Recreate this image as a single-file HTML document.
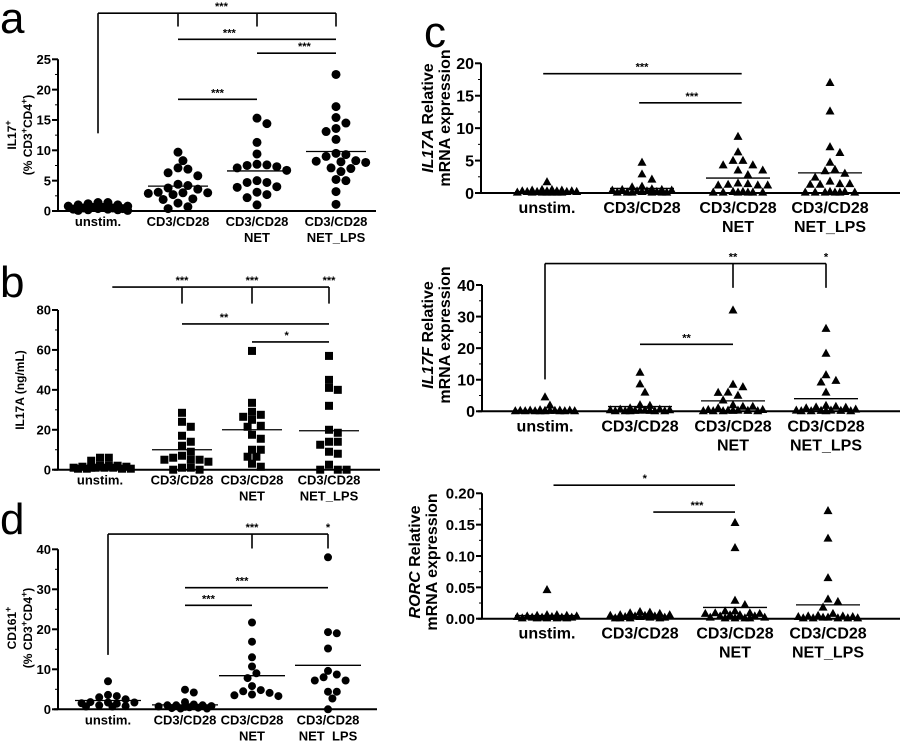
<!DOCTYPE html>
<html><head><meta charset="utf-8">
<style>
html,body{margin:0;padding:0;background:#fff;}
svg{display:block;font-family:"Liberation Sans",Arial,sans-serif;}
</style></head>
<body>
<svg id="fig" width="900" height="741" viewBox="0 0 900 741"></svg>
<script>
// ---------- data ----------
const categories = ["unstim.", "CD3/CD28", "CD3/CD28|NET", "CD3/CD28|NET_LPS"];
const aTicks = [0,5,10,15,20,25];
const aUnstim = [1.4,1.2,1.0,0.8,0.6,0.5,0.4,0.3,0.2,0.1,0.1,0.2,0.3,0.4,0.5,0.6,0.8,1.0,1.4];
const aCD28 = [9.7,8.3,7.1,6.9,6.3,5.8,4.4,4.2,3.8,3.6,3.1,3.0,3.0,2.9,2.7,2.0,1.9,1.3,0.7,0.4];
const aNET = [15.3,14.4,11.3,9.4,7.7,7.6,7.5,7.3,7.1,6.7,5.0,4.7,4.7,4.0,3.9,3.1,2.7,2.2,1.0];
const aLPS = [22.5,17.2,15.4,14.5,13.6,13.1,11.8,9.5,9.3,9.0,8.3,8.2,8.1,8.0,7.1,7.0,6.5,5.2,5.0,3.2,1.1];
const aMeans = [0.5,4.1,6.6,9.8];

const bTicks = [0,20,40,60,80];
const bUnstim = [6,6,4.5,2,2,1.5,1,1,1,0.5,0.5,0.5,0.5,1,1,1.5,2];
const bCD28 = [28.5,24,21.5,17,14,12,9,7,6,5,5,5,4,1,1,0,0];
const bNET = [59.5,33.5,29,27.5,26.5,25,21.5,22,17.5,15.5,10,10,6.5,6.5,3,1.5];
const bLPS = [57,45,41,40,32,20,18.5,14,14,12.5,9,8,2.5,0,0,0];
const bMeans = [1.5,10,20,19.5];

const dTicks = [0,10,20,30,40];
const dUnstim = [7,3.6,3.3,3,2.5,1.8,1.7,1.7,1.5,1.4,1,0.8,0.7,0.7];
const dCD28 = [4.9,4.2,1.8,1.2,1.0,0.8,0.6,0.4,0.3,0.2,0.2,0.5,0.7,1,1];
const dNET = [21.7,16.9,13,10.7,9,7.8,5.8,4.8,4.5,4.1,3.7,3.5,3.3];
const dLPS = [38,19.3,19,15.2,9.6,8.7,8,7.2,7.2,4.4,4.4,2.7,0];
const dMeans = [2.2,1.1,8.4,11];

const c1Ticks = [0,5,10,15,20];
const c1Unstim = [1.7,0.4,0.3,0.3,0.2,0.2,0.1,0.1,0.1,0.1,0.1,0.1,0.1,0.2,0.2,0.3,0.3,0.4,0.5,0.5];
const c1CD28 = [4.7,2.9,2.1,1.0,0.9,0.6,0.5,0.4,0.3,0.2,0.1,0.1,0.1,0.1,0.1,0.1,0.2,0.3,0.4,0.5];
const c1NET = [8.7,6.3,5.0,5.0,4.3,4.3,3.5,3.5,2.8,1.5,1.4,1.3,1.2,1.2,1.2,0.2,0.1,0.1,0.1,0.1,0.1,0.1,0.2];
const c1LPS = [17,12.6,7.1,6.2,4.7,3.6,3.4,3.0,2.4,1.8,1.4,1.4,1.3,1.3,0.2,0.1,0.1,0.1,0.1,0.1,0.1,0.2];
const c1Means = [0.2,0.7,2.3,3.1];

const c2Ticks = [0,10,20,30,40];
const c2Unstim = [4.5,1.9,0.3,0.2,0.2,0.1,0.1,0.1,0.1,0.1,0.1,0.1,0.1,0.2,0.2,0.3,0.3,0.4];
const c2CD28 = [12.3,8.6,6,2,1.8,1.0,0.6,0.4,0.3,0.2,0.1,0.1,0.1,0.1,0.1,0.2,0.3,0.4,0.6];
const c2NET = [32,8.5,7.7,6,5.9,5,3.5,2,1.5,1.5,1,0.5,0.3,0.2,0.1,0.1,0.1,0.1,0.2,0.3,0.5];
const c2LPS = [26.2,18.3,11.5,9.7,9.2,6,1.8,1.5,1.3,1.2,1.0,0.6,0.3,0.2,0.1,0.1,0.1,0.1,0.2,0.3];
const c2Means = [0.3,1.5,3.3,4];

const c3Ticks = [0,0.05,0.10,0.15,0.20];
const c3TickLabels = ["0.00","0.05","0.10","0.15","0.20"];
const c3Unstim = [0.046,0.006,0.005,0.004,0.003,0.002,0.002,0.001,0.001,0.001,0.001,0.001,0.002,0.002,0.003,0.004,0.005,0.006];
const c3CD28 = [0.011,0.010,0.009,0.006,0.005,0.004,0.003,0.002,0.001,0.001,0.001,0.001,0.002,0.003,0.004,0.005,0.006,0.008];
const c3NET = [0.153,0.113,0.029,0.022,0.012,0.012,0.009,0.009,0.008,0.006,0.004,0.002,0.001,0.001,0.001,0.001,0.002,0.004,0.006,0.008];
const c3LPS = [0.172,0.128,0.065,0.031,0.027,0.018,0.008,0.005,0.004,0.003,0.002,0.001,0.001,0.001,0.001,0.001,0.002,0.003,0.004];
const c3Means = [0.005,0.004,0.018,0.022];

// ---------- drawing ----------
const NS = "http://www.w3.org/2000/svg";
const svg = document.getElementById('fig');
function mk(tag, attrs, parent){
  const e = document.createElementNS(NS, tag);
  for (const k in attrs) e.setAttribute(k, attrs[k]);
  (parent||svg).appendChild(e);
  return e;
}
function txt(str, attrs, parent){ const t = mk('text', attrs, parent); t.textContent = str; return t; }

function beeswarm(vals, cx, yfn, d, maxW){
  const order = vals.map((v,i)=>i).sort((a,b)=>vals[b]-vals[a]);
  const placed = [];
  const out = new Array(vals.length);
  const step = d*0.55;
  const nmax = Math.floor(maxW/step);
  for (const i of order){
    const y = yfn(vals[i]);
    let best = null, bestD = -1;
    for (let k=0; k<=2*nmax; k++){
      const off = (k===0)?0:((k%2===1)?1:-1)*Math.ceil(k/2)*step;
      const x = cx + off;
      let md = 1e9;
      for (const p of placed){ const dd = Math.hypot(p.x-x,p.y-y); if (dd<md) md=dd; }
      if (md >= d*0.95){ best = x; break; }
      if (md > bestD + 0.5){ bestD = md; best = x; }
    }
    placed.push({x:best,y}); out[i]={x:best,y};
  }
  return out;
}

function panel(cfg){
  const g = mk('g', {});
  
  
  const y = v => cfg.y0 - (v - cfg.ticks[0]) / (cfg.ticks[cfg.ticks.length-1]-cfg.ticks[0]) * (cfg.y0 - cfg.yTop);
  const x = i => { const f = Math.max(0, Math.min(2, Math.floor(i))), r = i - f; const a = cfg.cx[f], b = cfg.cx[f+1]; return a + (b-a)*r; };
  const ya = mk('line', {x1:cfg.ax, y1:cfg.yTop, x2:cfg.ax, y2:cfg.y0, stroke:'#000','stroke-width':2}, g);
   
  const xa = mk('line', {x1:cfg.ax-4, y1:cfg.y0, x2:cfg.axR, y2:cfg.y0, stroke:'#000','stroke-width':2}, g);
   
  cfg.ticks.forEach((t,i)=>{
    mk('line',{x1:cfg.ax-6,y1:y(t),x2:cfg.ax,y2:y(t),stroke:'#000','stroke-width':2},g);
    if (i<cfg.ticks.length-1){ const m=(t+cfg.ticks[i+1])/2; mk('line',{x1:cfg.ax-3,y1:y(m),x2:cfg.ax,y2:y(m),stroke:'#000','stroke-width':1},g); }
    const fs = cfg.tfs||13;
    const lb = txt(cfg.tickLabels?cfg.tickLabels[i]:String(t), {x:cfg.ax-7, y:y(t)+fs*0.36, 'text-anchor':'end','font-size':fs,'font-weight':'bold'}, g);
     
  });
  categories.forEach((c,i)=>{
    c.split('|').forEach((line,j)=>{
      const t = txt(line,{x:cfg.cx[i], y:cfg.y0+(cfg.lb||15)+j*(cfg.lh||16),'text-anchor':'middle','font-size':cfg.cfs||13,'font-weight':'bold'},g);
       
    });
  });
  cfg.series.forEach((vals,i)=>{
    const pts = beeswarm(vals, cfg.cx[i], y, cfg.d, cfg.maxW);
    pts.forEach(p=>{
      let m;
      if (cfg.shape==='circle') m = mk('circle',{cx:p.x,cy:p.y,r:cfg.d/2,fill:'#000'},g);
      else if (cfg.shape==='square') m = mk('rect',{x:p.x-cfg.d/2,y:p.y-cfg.d/2,width:cfg.d,height:cfg.d,fill:'#000'},g);
      else { const h=cfg.d*0.9, w=cfg.d/2; m = mk('polygon',{points:`${p.x},${p.y-h*0.6} ${p.x-w},${p.y+h*0.4} ${p.x+w},${p.y+h*0.4}`,fill:'#000'},g); }
       
    });
    const ml = mk('line',{x1:cfg.cx[i]-cfg.mw,y1:y(cfg.means[i]),x2:cfg.cx[i]+cfg.mw,y2:y(cfg.means[i]),stroke:'#000','stroke-width':1.3},g);
     
  });
  (cfg.brackets||[]).forEach(b=>{
    const ln = mk('line',{x1:x(b.from),y1:y(b.v),x2:x(b.to),y2:y(b.v),stroke:'#000','stroke-width':1.6},g);
     
    (b.drops||[]).forEach(dr=>{ mk('line',{x1:x(dr[0]),y1:y(b.v),x2:x(dr[0]),y2:y(dr[1]),stroke:'#000','stroke-width':1.6},g); });
    (b.stars||[]).forEach(s=>{
      const t = txt(s[1],{x:x(s[0]),y:y(b.v)-3,'text-anchor':'middle','font-size':11,'font-weight':'bold'},g);
       
    });
  });
  const tg = mk('g',{transform:`translate(${cfg.titleX},${cfg.titleY}) rotate(-90)`},g);
  cfg.title.forEach((line,j)=>{
    const t = mk('text',{x:0,y:j*(cfg.titleLH||17),'text-anchor':'middle','font-size':cfg.titleFs||13,'font-weight':'bold'},tg);
    line.forEach(seg=>{ const s = mk('tspan',seg.it?{'font-style':'italic'}:{},t); s.textContent = seg.t; if(seg.sup){s.setAttribute('baseline-shift','super');s.setAttribute('font-size','9');} });
     
  });
  if (cfg.letter){
    const L = txt(cfg.letter,{x:cfg.lx,y:cfg.ly,'font-size':44},g);
     
  }
}

panel({name:'panel-a', letter:'a', lx:0, ly:33, ax:58, axR:376, y0:211, yTop:59.3, ticks:aTicks, cx:[98,178,257,336],
  series:[aUnstim,aCD28,aNET,aLPS], means:aMeans, shape:'circle', d:9, maxW:34, mw:30,
  title:[[{t:'IL17'},{t:'+',sup:1}],[{t:'(% CD3'},{t:'+',sup:1},{t:'CD4'},{t:'+',sup:1},{t:')'}]], titleX:16, titleY:135, titleFs:12, titleLH:16,
  brackets:[
    {from:0,to:3,v:32.6,drops:[[0,12.8],[1,30.4],[2,30.4],[3,30.4]],stars:[[1.55,'***']]},
    {from:1,to:3,v:28.3,stars:[[1.65,'***']]},
    {from:2,to:3,v:26.0,stars:[[2.6,'***']]},
    {from:1,to:2,v:18.4,stars:[[1.5,'***']]}
  ]});

panel({name:'panel-b', letter:'b', lx:0, ly:297, ax:58, axR:380, y0:469.7, yTop:310, ticks:bTicks, cx:[100,182,252,329],
  series:[bUnstim,bCD28,bNET,bLPS], means:bMeans, shape:'square', d:8, maxW:32, mw:30,
  title:[[{t:'IL17A (ng/mL)'}]], titleX:24, titleY:390, titleFs:12,
  brackets:[
    {from:0.15,to:3,v:91.5,drops:[[1,83.2],[2,83.2],[3,83.2]],stars:[[1,'***'],[2,'***'],[3,'***']]},
    {from:1,to:3,v:73,stars:[[1.6,'**']]},
    {from:2,to:3,v:64,stars:[[2.45,'*']]}
  ]});

panel({name:'panel-d', letter:'d', lx:0, ly:534, ax:58, axR:377, y0:709.3, yTop:549.3, ticks:dTicks, cx:[108,185,252,328],
  series:[dUnstim,dCD28,dNET,dLPS], means:dMeans, shape:'circle', d:8, maxW:30, mw:33,
  title:[[{t:'CD161'},{t:'+',sup:1}],[{t:'(% CD3'},{t:'+',sup:1},{t:'CD4'},{t:'+',sup:1},{t:')'}]], titleX:16, titleY:628, titleFs:12, titleLH:16,
  brackets:[
    {from:0,to:3,v:43.8,drops:[[0,13.6],[2,40.2],[3,40.2]],stars:[[2,'***'],[3,'*']]},
    {from:1,to:3,v:30.4,stars:[[1.85,'***']]},
    {from:1,to:2,v:26,stars:[[1.35,'***']]}
  ]});

panel({name:'panel-c-il17a', letter:'c', lx:424, ly:47, ax:481, axR:900, y0:193, yTop:63.3, ticks:c1Ticks, cx:[547,642,738,830],
  series:[c1Unstim,c1CD28,c1NET,c1LPS], means:c1Means, shape:'tri', d:9, maxW:30, mw:32, tfs:16, cfs:16, lb:20, lh:19,
  title:[[{t:'IL17A',it:1},{t:' Relative'}],[{t:'mRNA expression'}]], titleX:433, titleY:118, titleFs:16, titleLH:17,
  brackets:[
    {from:-0.04,to:2.04,v:18.4,stars:[[1,'***']]},
    {from:0.97,to:2.04,v:13.9,stars:[[1.52,'***']]}
  ]});

panel({name:'panel-c-il17f', letter:'', lx:0, ly:0, ax:482, axR:900, y0:411.3, yTop:285, ticks:c2Ticks, cx:[545,640,733,826],
  series:[c2Unstim,c2CD28,c2NET,c2LPS], means:c2Means, shape:'tri', d:9, maxW:30, mw:32, tfs:16, cfs:16, lb:20, lh:19,
  title:[[{t:'IL17F',it:1},{t:' Relative'}],[{t:'mRNA expression'}]], titleX:433, titleY:335, titleFs:16, titleLH:17,
  brackets:[
    {from:0,to:3,v:46.8,drops:[[0,10.1],[2,39.1],[3,39.1]],stars:[[2,'**'],[3,'*']]},
    {from:1,to:2,v:21.2,stars:[[1.5,'**']]}
  ]});

panel({name:'panel-c-rorc', letter:'', lx:0, ly:0, ax:482, axR:900, y0:618.7, yTop:493.3, ticks:c3Ticks, tickLabels:c3TickLabels, cx:[547,640,735,828],
  series:[c3Unstim,c3CD28,c3NET,c3LPS], means:c3Means, shape:'tri', d:9, maxW:30, mw:32, tfs:15, cfs:16, lb:20, lh:19,
  title:[[{t:'RORC',it:1},{t:' Relative'}],[{t:'mRNA expression'}]], titleX:420, titleY:562, titleFs:16, titleLH:17,
  brackets:[
    {from:0.07,to:2,v:0.213,stars:[[1.05,'*']]},
    {from:1.14,to:2,v:0.17,stars:[[1.6,'***']]}
  ]});
</script>
</body></html>
